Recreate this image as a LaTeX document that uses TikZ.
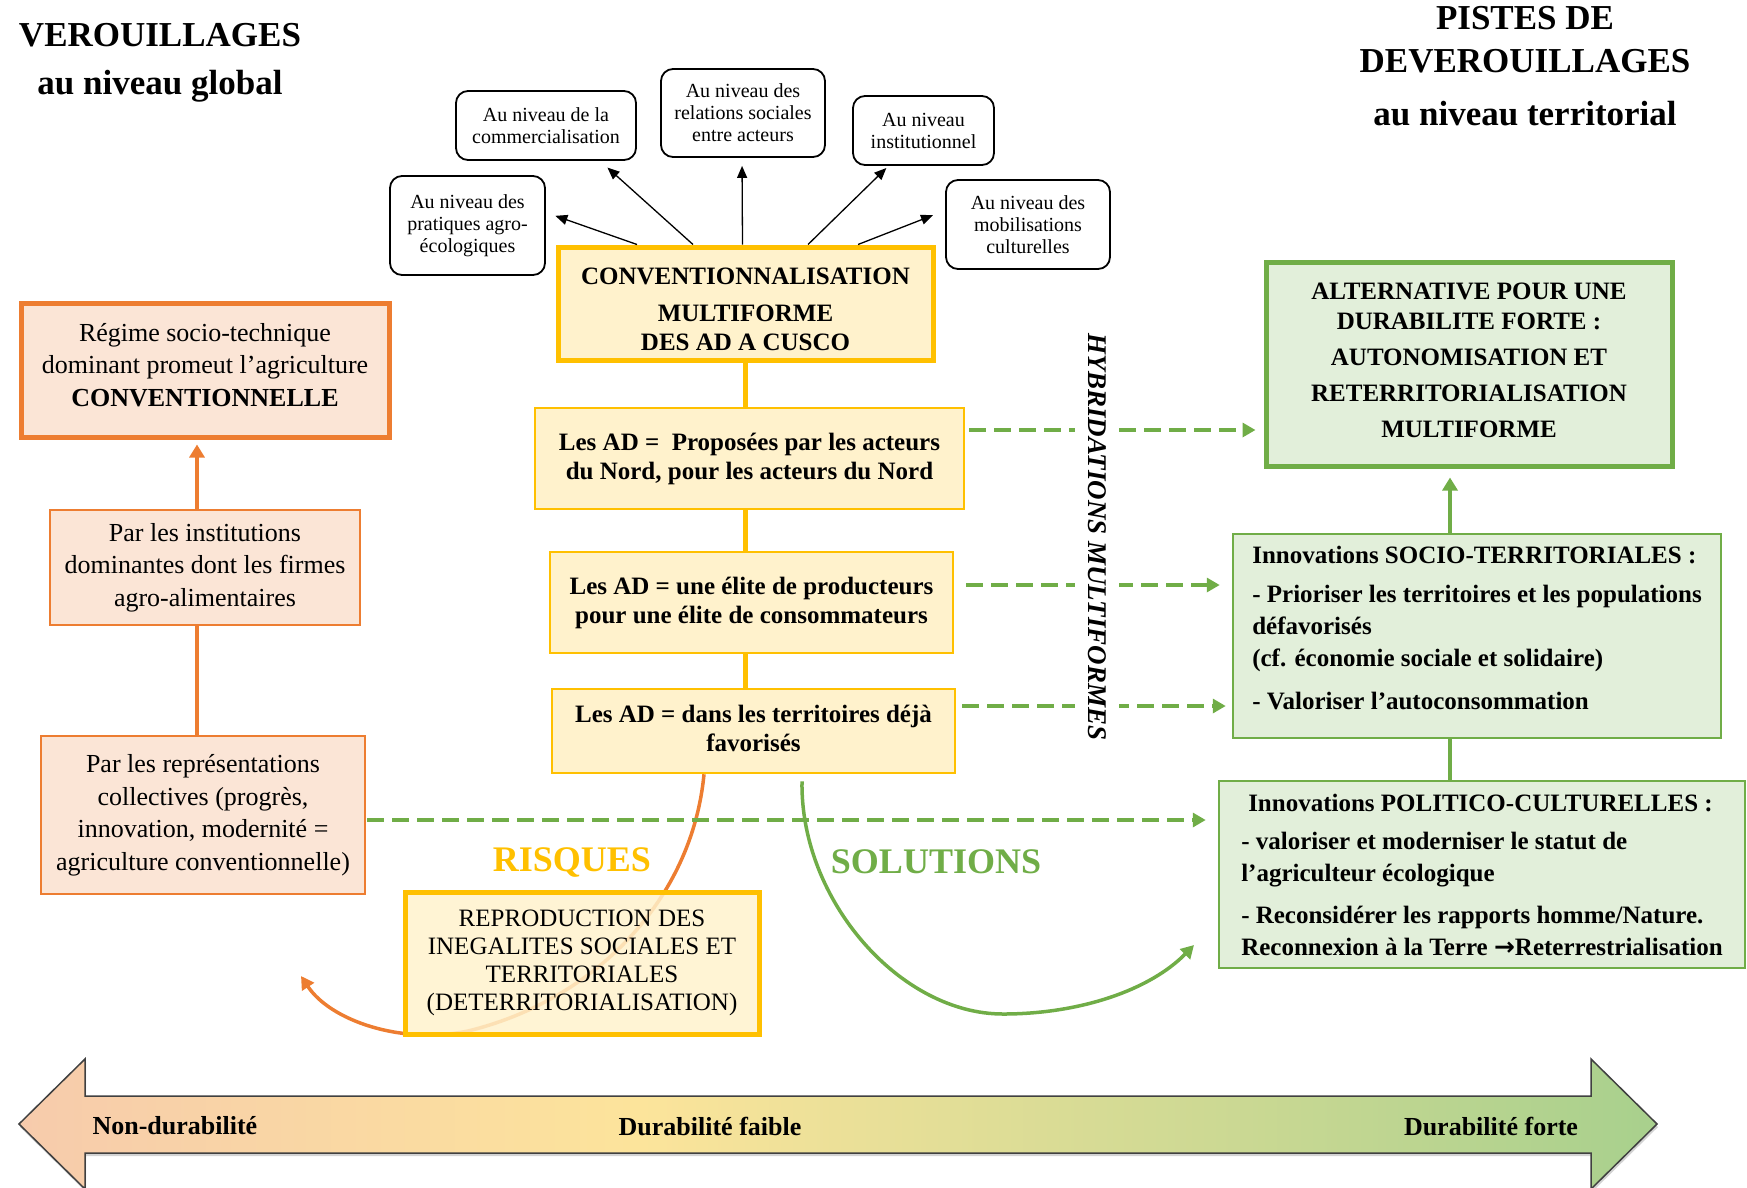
\documentclass[tikz,border=0pt]{standalone}
\usepackage{fontspec}
\setmainfont{Liberation Serif}
\newfontfamily\arrowfont{DejaVu Sans}
\usetikzlibrary{arrows.meta, positioning, calc, shadows}
\definecolor{adyellow}{HTML}{FFC000}
\definecolor{adfill}{HTML}{FFF2CC}
\definecolor{lockorange}{HTML}{ED7D31}
\definecolor{lockfill}{HTML}{FBE5D6}
\definecolor{altgreen}{HTML}{70AD47}
\definecolor{altfill}{HTML}{E2EFDA}
\definecolor{peach}{HTML}{F7CBAC}
\definecolor{paleyellow}{HTML}{FCE49B}
\definecolor{palegreen}{HTML}{A8D08D}
\pgfdeclarehorizontalshading{durab}{100bp}{color(0bp)=(peach); color(25bp)=(peach); color(44bp)=(paleyellow); color(75bp)=(palegreen); color(100bp)=(palegreen)}
\tikzset{
    headline/.style={align=center, inner sep=0pt, font=\fontsize{35}{44}\selectfont\bfseries},
    niveau/.style={rectangle, rounded corners=12pt, draw=black, line width=1.8pt, fill=white, align=center, font=\fontsize{20}{22}\selectfont},
    convbox/.style={rectangle, draw=adyellow, line width=5pt, fill=adfill, align=center, font=\fontsize{25}{29}\selectfont\bfseries},
    adbox/.style={rectangle, draw=adyellow, line width=2.5pt, fill=adfill, align=center, font=\fontsize{25}{29}\selectfont\bfseries},
    reprobox/.style={rectangle, draw=adyellow, line width=5pt, fill=adfill, fill opacity=0.85, text opacity=1, align=center, font=\fontsize{25}{28}\selectfont},
    lockmain/.style={rectangle, draw=lockorange, line width=5pt, fill=lockfill, align=center, font=\fontsize{26}{32.5}\selectfont},
    lockbox/.style={rectangle, draw=lockorange, line width=2.5pt, fill=lockfill, align=center, font=\fontsize{26}{32.5}\selectfont},
    altbox/.style={rectangle, draw=altgreen, line width=5pt, fill=altfill, align=center, font=\fontsize{25}{36}\selectfont\bfseries},
    innobox/.style={rectangle, draw=altgreen, line width=2.5pt, fill=altfill, align=left, font=\fontsize{25}{32}\selectfont\bfseries},
    fanarrow/.style={line width=1.3pt, -{Triangle[length=12pt,width=10pt]}},
    adlink/.style={draw=adyellow, line width=4.5pt},
    lockline/.style={draw=lockorange, line width=4pt},
    lockarrow/.style={lockline, -{Triangle[length=13pt,width=15pt]}},
    greenline/.style={draw=altgreen, line width=4pt},
    greenarrow/.style={greenline, -{Triangle[length=13pt,width=15pt]}},
    dasharrow/.style={draw=altgreen, line width=4pt, dash pattern=on 17pt off 8pt, -{Triangle[length=13pt,width=14pt]}},
    riskcurve/.style={draw=lockorange, line width=3.5pt, -{Triangle[length=13pt,width=14pt]}},
    solcurve/.style={draw=altgreen, line width=3.5pt, -{Triangle[length=13pt,width=14pt]}},
    bigword/.style={font=\fontsize{36}{40}\selectfont\bfseries},
    axislabel/.style={font=\fontsize{26}{30}\selectfont\bfseries}
}

\begin{document}
\begin{tikzpicture}[x=1pt, y=-1pt]
    \useasboundingbox (0,0) rectangle (1747,1187);

    \node (lockhead) [headline, anchor=north] at (160,23) {VEROUILLAGES\\[4pt]au niveau global};
    \node (unlockhead) [headline, anchor=north] at (1525,6) {PISTES DE\\[-1pt]DEVEROUILLAGES\\[9pt]au niveau territorial};

    \node (conv) [convbox, minimum width=375pt, minimum height=113pt] at (745.5,303.5) {\rule{0pt}{27.5pt}CONVENTIONNALISATION\\[8pt]MULTIFORME\\DES AD A CUSCO};
    \node (pratiques) [niveau, minimum width=155pt, minimum height=99pt] at (467.5,225.5) {Au niveau des\\pratiques agro-\\écologiques};
    \node (commerce) [niveau, minimum width=180pt, minimum height=69pt] at (546,125.5) {Au niveau de la\\commercialisation};
    \node (relations) [niveau, minimum width=164pt, minimum height=88pt] at (743,113) {Au niveau des\\relations sociales\\entre acteurs};
    \node (institution) [niveau, minimum width=141pt, minimum height=69pt] at (923.5,130.5) {Au niveau\\institutionnel};
    \node (mobilisation) [niveau, minimum width=164pt, minimum height=89pt] at (1028,224.5) {Au niveau des\\mobilisations\\culturelles};

    \draw [fanarrow, shorten >=10pt] ([xshift=-108.5pt]conv.north) -- ([yshift=13pt]pratiques.east);
    \draw [fanarrow, shorten >=10pt] ([xshift=-52.5pt]conv.north) -- ([xshift=54pt]commerce.south);
    \draw [fanarrow, shorten >=8pt] ([xshift=-3pt]conv.north) -- ([xshift=-1pt]relations.south);
    \draw [fanarrow, shorten >=3pt] ([xshift=62.5pt]conv.north) -- ([xshift=-35pt]institution.south);
    \draw [fanarrow, shorten >=13pt] ([xshift=112.5pt]conv.north) -- ([yshift=14pt]mobilisation.west);

    \node (ad1) [adbox, minimum width=429pt, minimum height=101pt] at (749.5,458.5) {Les AD = \ Proposées par les acteurs\\du Nord, pour les acteurs du Nord};
    \node (ad2) [adbox, minimum width=403pt, minimum height=101pt] at (751.5,602.5) {Les AD = une élite de producteurs\\pour une élite de consommateurs};
    \node (ad3) [adbox, minimum width=403pt, minimum height=84pt] at (753.5,731) {Les AD = dans les territoires déjà\\favorisés\\[-23pt]\mbox{}};

    \draw [adlink] (conv.south) -- (conv.south |- ad1.north);
    \draw [adlink] (ad1.south -| conv.south) -- (ad2.north -| conv.south);
    \draw [adlink] (ad2.south -| conv.south) -- (ad3.north -| conv.south);

    \node (regime) [lockmain, minimum width=368pt, minimum height=134pt] at (205,370) {Régime socio-technique\\dominant promeut l’agriculture\\\textbf{CONVENTIONNELLE}\\[-21.5pt]\mbox{}};
    \node (inst) [lockbox, minimum width=310pt, minimum height=115pt] at (205,567.5) {Par les institutions\\dominantes dont les firmes\\agro-alimentaires};
    \node (repr) [lockbox, minimum width=324pt, minimum height=158pt] at (203,815) {Par les représentations\\collectives (progrès,\\innovation, modernité =\\agriculture conventionnelle)};

    \draw [lockline] ([xshift=-6pt]repr.north) -- ([xshift=-8pt]inst.south);
    \draw [lockarrow, shorten >=5pt] ([xshift=-8pt]inst.north) -- ([xshift=-8pt]regime.south);

    \node (alt) [altbox, minimum width=406pt, minimum height=204pt] at (1469,364) {ALTERNATIVE POUR UNE\\[-6pt]DURABILITE FORTE :\\AUTONOMISATION ET\\RETERRITORIALISATION\\MULTIFORME\\[-28pt]\mbox{}};
    \node (socio) [innobox, minimum width=488pt, minimum height=204pt] at (1477,636) {Innovations SOCIO-TERRITORIALES :\\[7pt]- Prioriser les territoires et les populations\\défavorisés\\(cf. économie sociale et solidaire)\\[11pt]- Valoriser l’autoconsommation\\[-16pt]\mbox{}};
    \node (politico) [innobox, minimum width=526pt, minimum height=187pt] at (1482,874.5) {\hspace*{7pt}Innovations POLITICO-CULTURELLES :\\[6pt]- valoriser et moderniser le statut de\\l’agriculteur écologique\\[10pt]- Reconsidérer les rapports homme/Nature.\\Reconnexion à la Terre {\arrowfont\bfseries →}Reterrestrialisation};

    \draw [greenarrow, shorten >=9pt] ([xshift=-27pt]socio.north) -- ([xshift=-19pt]alt.south);
    \draw [greenline] ([xshift=-27pt]socio.south) -- ([xshift=-32pt]politico.north);

    \coordinate (riskend) at (301,976);
    \coordinate (solend) at (1194,945);
    \draw [riskcurve] ([xshift=-49.5pt]ad3.south) .. controls (692,900) and (595,1000) .. (468,1031) .. controls (400,1045) and (330,1020) .. (riskend);
    \draw [solcurve] ([xshift=48.5pt, yshift=-7pt]ad3.south) .. controls (800,900) and (900,1014) .. (1003,1014) .. controls (1080,1014) and (1150,990) .. (solend);

    \node (repro) [reprobox, minimum width=354pt, minimum height=142pt] at (582,963) {REPRODUCTION DES\\INEGALITES SOCIALES ET\\TERRITORIALES\\(DETERRITORIALISATION)};
    \node (risques) [bigword, text=adyellow] at (572,862) {RISQUES};
    \node (solutions) [bigword, text=altgreen] at (936,862) {SOLUTIONS};

    \coordinate (rowa) at (0,430);
    \coordinate (rowb) at (0,585);
    \coordinate (rowc) at (0,706);
    \coordinate (rowd) at (0,820);
    \draw [dasharrow, shorten <=4pt, shorten >=8pt] (ad1.east |- rowa) -- (alt.west |- rowa);
    \draw [dasharrow, shorten <=12pt, shorten >=12pt] (ad2.east |- rowb) -- (socio.west |- rowb);
    \draw [dasharrow, shorten <=6pt, shorten >=6pt] (ad3.east |- rowc) -- (socio.west |- rowc);
    \draw [dasharrow, shorten <=1pt, shorten >=12pt] (repr.east |- rowd) -- (politico.west |- rowd);

    \node (hybrid) [rotate=-90, fill=white, inner xsep=3pt, inner ysep=13pt, font=\fontsize{27}{30}\selectfont\bfseries\itshape] at (1097,537) {HYBRIDATIONS MULTIFORMES};

    \draw [draw=black!75, line width=1.5pt, shade, shading=durab, drop shadow={shadow xshift=1pt, shadow yshift=-3pt, opacity=0.35}] (19,1124) -- (85,1059) -- (85,1096) -- (1591,1096) -- (1591,1059) -- (1657,1124) -- (1591,1189) -- (1591,1153) -- (85,1153) -- (85,1189) -- cycle;
    \node (nondur) [axislabel, anchor=west] at (89,1126) {Non-durabilité};
    \node (faible) [axislabel] at (710,1126) {Durabilité faible};
    \node (forte) [axislabel] at (1491,1126) {Durabilité forte};
\end{tikzpicture}
\end{document}
